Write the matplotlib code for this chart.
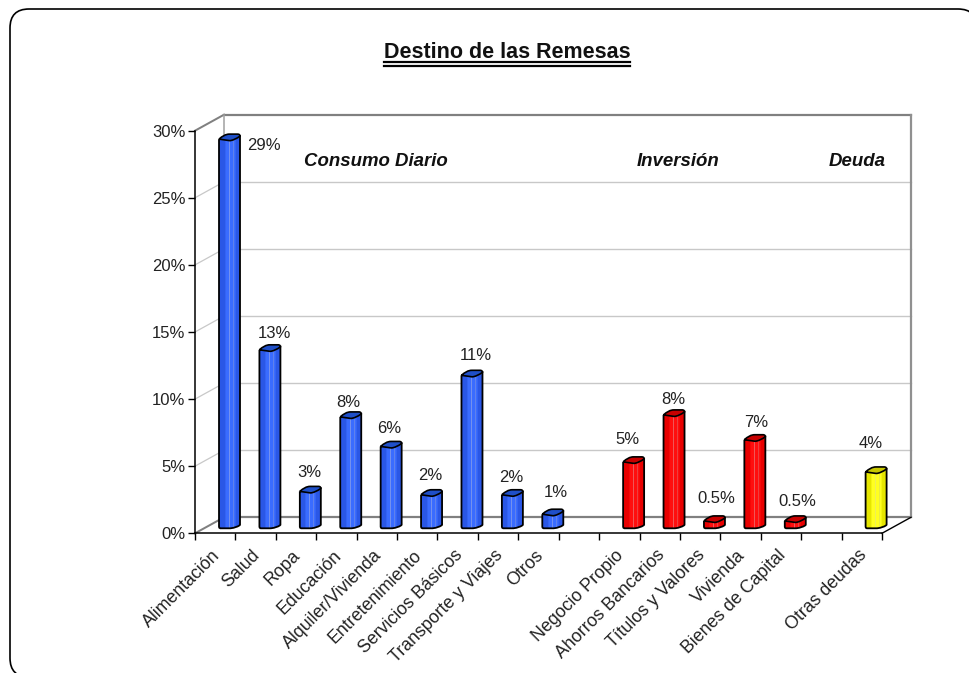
import numpy as np
import matplotlib
matplotlib.use('Agg')
import matplotlib.pyplot as plt
from matplotlib.patches import FancyBboxPatch, PathPatch, Rectangle
from matplotlib.path import Path
from matplotlib.transforms import Affine2D, IdentityTransform

plt.rcParams['font.family'] = ['Liberation Sans', 'DejaVu Sans']

categories = ['Alimentación', 'Salud', 'Ropa', 'Educación', 'Alquiler/Vivienda',
              'Entretenimiento', 'Servicios Básicos', 'Transporte y Viajes', 'Otros', '',
              'Negocio Propio', 'Ahorros Bancarios', 'Títulos y Valores', 'Vivienda',
              'Bienes de Capital', '', 'Otras deudas']
values = [29, 13.3, 2.75, 8.3, 6.1, 2.5, 11.4, 2.5, 1.05, None,
          4.95, 8.45, 0.55, 6.6, 0.55, None, 4.2]
value_labels = ['29%', '13%', '3%', '8%', '6%', '2%', '11%', '2%', '1%', '',
                '5%', '8%', '0.5%', '7%', '0.5%', '', '4%']
groups = ['c', 'c', 'c', 'c', 'c', 'c', 'c', 'c', 'c', '',
          'i', 'i', 'i', 'i', 'i', '', 'd']
yticks = [0, 5, 10, 15, 20, 25, 30]

# pixel shift of each value label from the top of its bar
label_shift = [(34, -6), (5, 16), (-1, 19), (-2, 14), (-2, 18), (-1, 19), (4, 20), (-1, 17), (3, 22), None,
               (-6, 22), (-1, 15), (2, 22), (1, 17), (2, 19), None, (-5, 28)]

colors = {'c': ('#2a57e6', '#3a6cff', '#1f4fc8'),
          'i': ('#e80000', '#ff0f0f', '#c80000'),
          'd': ('#e6e600', '#ffff20', '#c8c800')}

W, H = 970, 673
fig = plt.figure(figsize=(W / 100, H / 100), dpi=100)
fig.patch.set_facecolor('white')


def fx(x):
    return x / W


def fy(y):
    return 1 - y / H


# outer rounded frame, runs off the right and bottom of the image
frame = FancyBboxPatch((10, H - 677), 967, 668, boxstyle='round,pad=0,rounding_size=19',
                       transform=IdentityTransform(), fc='white', ec='black', lw=1.2, zorder=-5)
fig.add_artist(frame)

ax = fig.add_axes([fx(195), fy(533.3), (882 - 195) / W, (533.3 - 130.7) / H])
ax.set_xlim(0, 17)
ax.set_ylim(0, 30)
ax.patch.set_visible(False)
for s in ['top', 'right']:
    ax.spines[s].set_visible(False)
ax.spines['left'].set_linewidth(1.1)
ax.spines['bottom'].set_linewidth(1.1)

ax.set_yticks(yticks)
ax.set_yticklabels(['%d%%' % t for t in yticks], fontsize=12, color='#222222')
ax.set_xticks(range(18))
ax.set_xticklabels([])
ax.set_xticks(np.arange(17) + 0.5, minor=True)
ax.set_xticklabels(categories, minor=True, rotation=45, ha='right', va='top',
                   rotation_mode='anchor', fontsize=12.8, color='#222222')
ax.tick_params(axis='x', which='minor', length=0, pad=9)
ax.tick_params(axis='x', which='major', length=5, width=1)
ax.tick_params(axis='y', length=5, width=1, pad=2)
for lab in ax.get_xticklabels(minor=True):
    lab.set_transform(lab.get_transform() + Affine2D().translate(-4, -1))

# the box behind the bars: same data axes, moved back by the depth
back = ax.transData + Affine2D().translate(29, 16)
for t in yticks:
    edge = t in (0, 30)
    col = '#808080' if edge else '#c8c8c8'
    lw = 1.6 if edge else 1
    ax.plot([0, 17], [t, t], transform=back, color=col, lw=lw, clip_on=False, zorder=1)
    x0, y0 = ax.transData.transform((0, t))
    x1, y1 = back.transform((0, t))
    ax.plot([x0, x1], [y0, y1], transform=IdentityTransform(), color=col, lw=lw * 0.9,
            clip_on=False, zorder=1)
ax.plot([0, 0], [0, 30], transform=back, color='#a0a0a0', lw=1.1, clip_on=False, zorder=1)
ax.plot([17, 17], [0, 30], transform=back, color='#909090', lw=1.6, clip_on=False, zorder=1)
x0, y0 = ax.transData.transform((17, 0))
x1, y1 = back.transform((17, 0))
ax.plot([x0, x1], [y0, y1], transform=IdentityTransform(), color='black', lw=1, clip_on=False, zorder=1)

bar_tf = ax.transData + Affine2D().translate(14.3, 5)
BW = 10.5
M, L, C = Path.MOVETO, Path.LINETO, Path.CURVE4


def draw_bar(i, v, group):
    base, light, top = colors[group]
    cx, yb = bar_tf.transform((i + 0.5, 0))
    _, yt = bar_tf.transform((i + 0.5, v))
    tr = IdentityTransform()
    body = Path([(cx - BW, yt), (cx - BW, yb + 2), (cx - BW, yb), (cx - BW + 1, yb), (cx - BW + 2, yb),
                 (cx + 1, yb), (cx + 5, yb + 0.5), (cx + BW - 1, yb + 2), (cx + BW, yb + 3.5),
                 (cx + BW, yt + 3), (cx - BW, yt)],
                [M, L, C, C, C, L, C, C, C, L, L])
    outline = PathPatch(body, fc=base, ec='none', transform=tr, zorder=3, clip_on=False)
    ax.add_patch(outline)
    # horizontal shading across the cylinder
    for k, c, a in [(-5, light, 0.6), (-4, light, 1), (-3, light, 1), (-2, light, 1), (-1, '#ffffff', 0.35),
                    (0, light, 1), (1, light, 1), (2, light, 1), (3, '#ffffff', 0.25), (4, light, 1),
                    (5, light, 0.6)]:
        st = Rectangle((cx + k, yb - 2), 1, yt - yb + 6, fc=c, ec='none', alpha=a,
                       transform=tr, zorder=3.1)
        ax.add_patch(st)
        st.set_clip_path(body, tr)
    ax.add_patch(PathPatch(body, fc='none', ec='black', lw=1.3, transform=tr, zorder=3.2, clip_on=False))
    lid = Path([(cx - BW, yt), (cx - 7, yt + 3), (cx - 4, yt + 5), (cx, yt + 5), (cx + 8, yt + 5),
                (cx + 10, yt + 5), (cx + BW, yt + 4), (cx + BW, yt + 3), (cx + 7, yt + 0.5),
                (cx + 3, yt - 1.5), (cx, yt - 1.5), (cx - BW, yt)],
               [M, C, C, C, L, C, C, C, C, C, C, L])
    ax.add_patch(PathPatch(lid, fc=top, ec='black', lw=1.2, transform=tr, zorder=3.3, clip_on=False))


for i, v in enumerate(values):
    if v is None:
        continue
    draw_bar(i, v, groups[i])
    ax.annotate(value_labels[i], xy=(i + 0.5, v), xycoords=bar_tf,
                xytext=(label_shift[i][0] * 0.72, label_shift[i][1] * 0.72), textcoords='offset points',
                ha='center', va='center', fontsize=12, color='#222222', zorder=5)

# title with its double underline
fig.text(fx(507), fy(58.5), 'Destino de las Remesas', ha='center', va='baseline',
         fontsize=15.5, fontweight='bold', color='#111111')
for y, lw in [(62.3, 1.6), (65.8, 1.6)]:
    fig.add_artist(plt.Line2D([fx(384), fx(630)], [fy(y), fy(y)], color='black', lw=lw))

for name, x in [('Consumo Diario', 376), ('Inversión', 678), ('Deuda', 857)]:
    fig.text(fx(x), fy(162), name, ha='center', va='center', fontsize=13.4,
             fontweight='bold', fontstyle='italic', color='#111111')

fig.savefig('out.png', dpi=100)
